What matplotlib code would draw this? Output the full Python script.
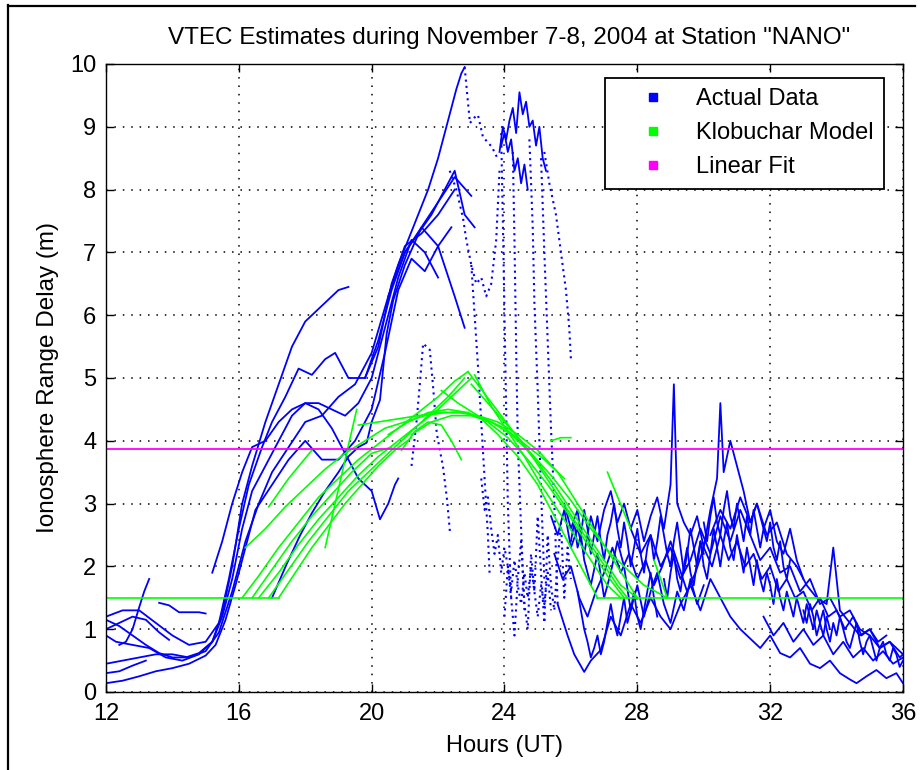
import matplotlib
matplotlib.use("Agg")
import matplotlib.pyplot as plt
from matplotlib.lines import Line2D

plt.rcParams['font.family'] = ['Liberation Sans', 'DejaVu Sans']

# ---- Actual Data: solid tracks (hours UT, range delay m) ----
e1_t = [12.0, 12.4, 12.8, 13.2, 13.6, 14.0, 14.4, 14.8, 15.2, 15.5, 15.8, 16.1, 16.4, 16.8, 17.2, 17.6, 18.0, 18.4, 18.8, 19.0, 19.3]
e1_y = [1.15, 1.05, 0.9, 0.75, 0.62, 0.55, 0.55, 0.62, 0.8, 1.25, 2.0, 3.0, 3.6, 4.3, 4.9, 5.5, 5.9, 6.1, 6.3, 6.4, 6.45]
e2_t = [12.0, 12.5, 13.0, 13.5, 14.0, 14.5, 15.0, 15.4, 15.7, 16.0, 16.3, 16.7, 17.0, 17.4, 17.8, 18.2, 18.6, 18.9, 19.3, 19.8, 20.2, 20.6, 21.0, 21.5, 22.0, 22.5]
e2_y = [1.2, 1.3, 1.3, 1.1, 0.9, 0.75, 0.8, 1.1, 1.8, 2.6, 3.3, 3.9, 4.3, 4.7, 5.15, 5.05, 5.3, 5.4, 5.0, 5.0, 5.5, 6.5, 7.1, 7.3, 7.6, 8.0]
e3_t = [12.0, 12.3, 12.8, 13.3, 13.8, 14.3, 14.8, 15.2, 15.5, 15.8, 16.1, 16.4, 16.8, 17.2, 17.6, 18.0, 18.4, 18.8, 19.2, 19.6, 20.0, 20.25, 20.5, 20.7, 20.8]
e3_y = [0.9, 0.8, 0.75, 0.7, 0.55, 0.5, 0.6, 0.8, 1.2, 1.8, 2.6, 3.2, 3.6, 4.0, 4.4, 4.6, 4.5, 4.2, 3.8, 3.4, 3.2, 2.75, 3.0, 3.3, 3.4]
e4_t = [12.0, 12.5, 13.0, 13.5, 14.0, 14.5, 15.0, 15.4, 15.8, 16.2, 16.6, 17.0, 17.5, 18.0, 18.5, 19.0, 19.5, 20.0, 20.5, 21.0, 21.5, 22.0, 22.5, 23.0]
e4_y = [0.45, 0.5, 0.55, 0.6, 0.6, 0.55, 0.65, 0.95, 1.6, 2.4, 3.0, 3.5, 3.9, 4.3, 4.4, 4.7, 4.9, 5.4, 6.3, 7.0, 7.4, 7.8, 8.2, 7.9]
e5_t = [12.0, 12.5, 13.0, 13.5, 14.0, 14.5, 15.0, 15.3, 15.6, 15.9, 16.2, 16.5, 17.0, 17.5, 18.0, 18.5, 19.0, 19.5, 20.0, 20.4, 20.8, 21.2, 21.6, 22.0, 22.4]
e5_y = [0.14, 0.18, 0.25, 0.33, 0.38, 0.45, 0.58, 0.75, 1.15, 1.7, 2.3, 2.9, 3.3, 3.7, 4.0, 3.7, 3.7, 4.0, 4.5, 5.4, 6.4, 6.9, 6.7, 7.1, 7.4]
e6_t = [17.0, 17.45, 17.85, 18.2, 18.6, 19.0, 19.3, 19.6, 19.85, 20.0, 20.25, 20.45, 20.65, 21.0, 21.5, 22.0, 22.5, 22.8]
e6_y = [1.5, 2.05, 2.5, 2.85, 3.2, 3.5, 3.75, 3.9, 3.97, 4.3, 4.65, 5.7, 6.24, 6.8, 7.4, 7.1, 6.3, 5.8]
e7_t = [15.2, 15.5, 15.8, 16.1, 16.4, 16.8, 17.2, 17.6, 18.0, 18.4, 18.8, 19.2, 19.6, 20.0, 20.4, 20.8, 21.2, 21.6, 22.0]
e7_y = [1.9, 2.4, 3.0, 3.5, 3.9, 4.0, 4.3, 4.5, 4.6, 4.6, 4.5, 4.4, 4.6, 5.0, 5.8, 6.6, 7.2, 7.0, 6.6]
e8_t = [19.8, 20.2, 20.6, 21.0, 21.4, 21.8, 22.2, 22.5, 22.8, 23.1]
e8_y = [5.0, 5.6, 6.4, 7.0, 7.3, 7.6, 8.0, 8.3, 7.6, 7.4]
p10_t = [20.5, 20.8, 21.1, 21.4, 21.7, 22.0, 22.2, 22.4, 22.55, 22.7, 22.8]
p10_y = [6.3, 6.8, 7.2, 7.6, 8.0, 8.5, 8.9, 9.3, 9.6, 9.85, 9.95]
s1_t = [12.4, 12.6, 12.8, 13.0, 13.15, 13.3]
s1_y = [0.75, 0.8, 1.0, 1.35, 1.6, 1.8]
s2_t = [13.6, 13.9, 14.2, 14.5, 14.8, 15.0]
s2_y = [1.42, 1.38, 1.27, 1.27, 1.27, 1.25]
s3_t = [12.0, 12.4, 12.8, 13.2]
s3_y = [0.3, 0.33, 0.42, 0.5]
s4_t = [12.0, 12.4, 12.8, 13.2, 13.6, 13.9]
s4_y = [1.0, 1.1, 1.2, 1.15, 0.95, 0.83]
c1_t = [23.85, 23.95, 24.05, 24.15, 24.25, 24.35, 24.45, 24.55, 24.65, 24.75, 24.85, 24.95, 25.05, 25.15, 25.25]
c1_y = [8.6, 9.0, 8.8, 9.1, 9.3, 8.9, 9.55, 9.2, 9.4, 9.0, 9.1, 8.7, 9.0, 8.5, 8.3]
c2_t = [23.9, 24.0, 24.1, 24.2, 24.3, 24.4, 24.5, 24.6, 24.7]
c2_y = [8.7, 8.9, 8.6, 8.8, 8.3, 8.5, 8.1, 8.4, 8.0]

n1_t = [25.4, 25.6, 25.8, 26.0, 26.2, 26.4, 26.6, 26.8, 27.0, 27.2, 27.4, 27.6, 27.8, 28.0, 28.2, 28.4, 28.6, 28.8, 29.0, 29.1,
        29.2, 29.4, 29.6, 29.8, 30.0, 30.2, 30.4, 30.5, 30.6, 30.8, 31.0, 31.2, 31.4, 31.6, 31.8, 32.0, 32.2, 32.4, 32.6, 32.8, 33.0]
n1_y = [2.8, 2.5, 2.9, 2.3, 2.6, 2.2, 2.8, 2.4, 2.9, 3.2, 2.7, 3.0, 2.6, 2.9, 2.4, 2.8, 3.1, 2.6, 3.3, 4.9,
        3.0, 2.7, 2.5, 2.8, 2.3, 2.9, 3.4, 4.6, 3.5, 4.0, 3.6, 3.2, 2.7, 3.0, 2.6, 2.9, 2.4, 2.2, 2.6, 2.1, 1.8]
n2_t = [25.5, 25.75, 26.0, 26.25, 26.5, 26.75, 27.0, 27.25, 27.5, 27.75, 28.0, 28.25, 28.5, 28.75, 29.0, 29.25, 29.5, 29.75, 30.0, 30.25,
        30.5, 30.75, 31.0, 31.25, 31.5, 31.75, 32.0, 32.25, 32.5, 32.75, 33.0, 33.25, 33.5, 33.75, 34.0, 34.25, 34.5, 34.75, 35.0, 35.25, 35.5]
n2_y = [2.2, 1.8, 2.0, 1.5, 1.2, 1.6, 1.9, 2.3, 1.9, 2.2, 1.8, 2.1, 1.7, 2.0, 2.4, 2.0, 1.6, 1.9, 2.3, 2.0,
        2.5, 2.1, 2.4, 2.0, 2.2, 1.8, 2.0, 1.6, 1.8, 1.5, 1.6, 1.3, 1.5, 1.2, 1.3, 1.0, 1.2, 0.9, 1.0, 0.8, 0.9]
n3_t = [25.6, 25.9, 26.1, 26.4, 26.6, 26.9, 27.2, 27.5, 27.8, 28.1, 28.4, 28.7, 29.0, 29.3, 29.6, 29.9, 30.2, 30.5, 30.8,
        31.1, 31.4, 31.7, 32.0, 32.3, 32.6, 32.9, 33.2, 33.5, 33.8, 34.1, 34.4, 34.6, 34.9, 35.2, 35.5, 35.8, 36.0]
n3_y = [1.4, 0.9, 0.6, 0.32, 0.5, 0.67, 1.2, 0.9, 1.4, 1.1, 1.5, 1.2, 1.0, 1.4, 1.7, 1.3, 1.8, 1.5, 1.2,
        1.0, 0.85, 0.7, 0.9, 0.62, 0.55, 0.7, 0.45, 0.38, 0.5, 0.3, 0.2, 0.14, 0.25, 0.35, 0.22, 0.3, 0.14]
n4_t = [27.8, 28.1, 28.4, 28.7, 29.0, 29.3, 29.6, 29.9, 30.2, 30.5, 30.8, 31.1, 31.4, 31.7, 32.0, 32.3, 32.6, 32.9, 33.2, 33.5,
        33.8, 34.1, 34.4, 34.7, 35.0, 35.3, 35.6, 36.0]
n4_y = [2.6, 2.2, 2.5, 2.0, 2.3, 1.8, 2.1, 2.6, 2.2, 2.8, 2.4, 2.9, 2.5, 2.1, 2.3, 1.9, 2.0, 1.6, 1.8, 1.4,
        1.5, 1.2, 1.3, 1.0, 0.9, 0.7, 0.8, 0.6]
n5_t = [30.2, 30.5, 30.8, 31.1, 31.4, 31.6, 31.9, 32.2, 32.5, 32.8, 33.1, 33.4, 33.7, 33.9, 34.1, 34.4, 34.7, 35.0, 35.3, 35.6, 35.9, 36.0]
n5_y = [2.5, 2.9, 2.6, 3.1, 2.7, 3.0, 2.5, 2.7, 2.2, 2.0, 1.7, 1.5, 1.4, 2.3, 1.3, 1.1, 0.9, 1.0, 0.7, 0.8, 0.55, 0.6]
n6_t = [25.8, 26.0, 26.2, 26.4, 26.6, 26.8, 27.0, 27.2, 27.4, 27.6, 27.8, 28.0, 28.2, 28.4, 28.6, 28.8, 29.0, 29.2, 29.4, 29.6, 29.8, 30.0]
n6_y = [3.0, 2.6, 2.9, 2.1, 1.7, 2.2, 1.5, 1.9, 2.4, 2.0, 1.3, 1.7, 1.2, 1.6, 1.9, 1.4, 1.1, 1.6, 1.3, 1.8, 1.4, 1.7]
n7_t = [31.8, 32.1, 32.4, 32.7, 33.0, 33.3, 33.6, 33.9, 34.2, 34.5, 34.8, 35.1, 35.4, 35.7, 36.0]
n7_y = [1.2, 0.9, 1.1, 0.8, 1.0, 0.75, 0.9, 0.6, 0.8, 0.55, 0.7, 0.5, 0.65, 0.45, 0.55]
n8_t = [26.0, 26.1, 26.2, 26.3, 26.4, 26.5, 26.6, 26.7, 26.8, 26.9, 27.0, 27.1, 27.2, 27.3, 27.4, 27.5, 27.6, 27.7, 27.8, 27.9,
        28.0, 28.1, 28.2, 28.3, 28.4, 28.5, 28.6, 28.7, 28.8, 28.9, 29.0, 29.1, 29.2, 29.3, 29.4, 29.5, 29.6, 29.7, 29.8, 29.9, 30.0]
n8_y = [2.4, 2.7, 2.3, 2.5, 2.9, 2.6, 2.2, 2.5, 2.8, 2.4, 2.1, 2.5, 2.7, 3.0, 2.6, 2.3, 2.7, 2.4, 2.0, 2.3,
        2.6, 2.2, 1.9, 2.3, 2.5, 2.1, 2.4, 2.8, 2.5, 2.2, 2.0, 2.4, 2.7, 2.3, 1.9, 2.2, 2.6, 2.3, 2.0, 2.4, 2.2]
n9_t = [28.8, 28.9, 29.0, 29.1, 29.2, 29.3, 29.4, 29.5, 29.6, 29.7, 29.8, 29.9, 30.0, 30.1, 30.2, 30.3, 30.4, 30.5, 30.6, 30.7,
        30.8, 30.9, 31.0, 31.1, 31.2, 31.3, 31.4, 31.5, 31.6, 31.7, 31.8, 31.9, 32.0, 32.1, 32.2, 32.3, 32.4, 32.5, 32.6, 32.7,
        32.8, 32.9, 33.0, 33.1, 33.2, 33.3, 33.4, 33.5, 33.6, 33.7, 33.8]
n9_y = [1.8, 1.5, 1.9, 2.2, 1.8, 1.6, 2.0, 2.3, 1.9, 1.7, 2.1, 2.4, 2.0, 1.8, 2.2, 2.6, 2.3, 2.0, 2.4, 2.7,
        2.3, 2.1, 2.5, 2.2, 1.9, 2.3, 2.0, 1.7, 2.1, 1.8, 1.6, 1.9, 1.7, 1.4, 1.8, 1.5, 1.3, 1.6, 1.4, 1.2,
        1.5, 1.3, 1.1, 1.4, 1.2, 1.0, 1.3, 1.1, 0.9, 1.2, 1.0]
n10_t = [33.0, 33.1, 33.2, 33.3, 33.4, 33.5, 33.6, 33.7, 33.8, 33.9, 34.0, 34.1, 34.2, 34.3, 34.4, 34.5, 34.6, 34.7, 34.8, 34.9,
         35.0, 35.1, 35.2, 35.3, 35.4, 35.5, 35.6, 35.7, 35.8, 35.9, 36.0]
n10_y = [1.3, 1.1, 1.4, 1.2, 0.9, 1.1, 1.3, 1.0, 0.8, 1.1, 0.9, 1.2, 1.0, 0.8, 0.7, 0.9, 1.1, 0.8, 0.6, 0.8,
         0.9, 0.7, 0.5, 0.7, 0.8, 0.6, 0.5, 0.7, 0.6, 0.4, 0.5]
n11_t = [26.2, 26.3, 26.4, 26.5, 26.6, 26.7, 26.8, 26.9, 27.0, 27.1, 27.2, 27.3, 27.4, 27.5, 27.6, 27.7, 27.8, 27.9, 28.0, 28.1,
         28.2, 28.3, 28.4, 28.5, 28.6]
n11_y = [1.6, 1.3, 1.0, 0.8, 0.55, 0.7, 0.9, 0.6, 0.8, 1.1, 1.4, 1.1, 0.9, 1.2, 1.5, 1.1, 1.3, 1.6, 1.2, 1.0,
         1.3, 1.6, 1.9, 1.5, 1.2]
n12_t = [30.0, 30.1, 30.2, 30.3, 30.4, 30.5, 30.6, 30.7, 30.8, 30.9, 31.0, 31.1, 31.2, 31.3, 31.4, 31.5, 31.6, 31.7, 31.8, 31.9,
         32.0, 32.1, 32.2, 32.3, 32.4, 32.5, 32.6]
n12_y = [2.7, 2.4, 2.8, 3.1, 2.7, 2.5, 2.9, 3.2, 2.8, 2.6, 3.0, 2.7, 2.4, 2.8, 2.5, 2.9, 2.6, 2.3, 2.6, 2.4,
         2.7, 2.3, 2.1, 2.4, 2.0, 1.8, 2.1]

# ---- Actual Data: sparse (dotted) tracks ----
d1_t = [22.8, 22.88, 22.96, 23.1, 23.2, 23.35, 23.5, 23.62, 23.77]
d1_y = [9.95, 9.5, 9.06, 9.15, 9.19, 8.84, 8.75, 8.68, 8.52]
d2_t = [22.35, 22.55, 22.75, 22.85, 23.0, 23.15, 23.3, 23.45, 23.6, 23.75, 23.85]
d2_y = [8.3, 8.0, 7.55, 7.2, 6.8, 6.5, 6.6, 6.3, 6.5, 7.2, 8.3]
d3_t = [23.9, 23.95, 24.0, 24.05, 24.1, 24.2]
d3_y = [8.9, 7.5, 6.0, 4.5, 3.0, 1.5]
d4_t = [24.25, 24.3, 24.35, 24.4, 24.5, 24.6]
d4_y = [8.6, 7.2, 5.5, 4.0, 2.6, 1.3]
d5_t = [24.75, 24.85, 24.9, 25.0, 25.1, 25.2]
d5_y = [8.8, 7.4, 6.2, 4.8, 3.2, 1.8]
d6_t = [25.1, 25.2, 25.3, 25.4, 25.5, 25.6]
d6_y = [8.5, 7.0, 5.6, 4.2, 3.0, 1.4]
d7_t = [25.2, 25.35, 25.55, 25.7, 25.85, 25.95, 26.0]
d7_y = [8.6, 8.1, 7.6, 7.0, 6.4, 5.8, 5.3]
d8_t = [21.2, 21.35, 21.45, 21.55, 21.75, 21.85, 21.96, 22.15, 22.27, 22.36]
d8_y = [3.6, 4.3, 4.9, 5.55, 5.45, 4.86, 4.12, 3.58, 3.06, 2.53]
d9_t = [23.0, 23.1, 23.2, 23.3, 23.4, 23.5, 23.55]
d9_y = [6.8, 6.0, 5.2, 4.3, 3.4, 2.5, 1.9]
l1_t = [23.3, 23.4, 23.5, 23.6, 23.7, 23.8, 23.9, 24.0, 24.1, 24.2, 24.3, 24.4, 24.5, 24.6, 24.7, 24.8, 24.9, 25.0, 25.1, 25.2, 25.3, 25.4]
l1_y = [3.4, 2.9, 3.1, 2.6, 2.2, 2.5, 1.9, 2.3, 2.0, 1.6, 2.1, 1.7, 1.4, 1.9, 1.5, 2.0, 1.6, 1.2, 1.7, 1.4, 1.9, 1.3]
l2_t = [24.0, 24.1, 24.2, 24.3, 24.4, 24.5, 24.6, 24.7, 24.8, 24.9, 25.0, 25.1, 25.2, 25.3, 25.4, 25.5, 25.6, 25.7, 25.8, 25.9, 26.0]
l2_y = [1.2, 2.0, 1.5, 0.9, 1.8, 2.4, 1.4, 1.0, 2.2, 1.6, 2.8, 1.9, 1.1, 2.5, 1.7, 1.3, 2.1, 2.7, 1.5, 2.3, 1.8]

# ---- Klobuchar Model segments ----
gf1_t = [12.0, 17.2]
gf1_y = [1.5, 1.5]
gf2_t = [26.8, 36.0]
gf2_y = [1.5, 1.5]
g1_t = [16.1, 16.6, 17.2, 17.8, 18.4, 19.0, 19.6, 20.2, 20.8, 21.4, 22.0, 22.5, 22.9]
g1_y = [1.5, 1.85, 2.3, 2.7, 3.1, 3.4, 3.7, 3.95, 4.2, 4.45, 4.7, 4.95, 5.1]
g2_t = [16.4, 17.0, 17.6, 18.2, 18.8, 19.4, 20.0, 20.6]
g2_y = [1.5, 1.95, 2.4, 2.8, 3.15, 3.5, 3.8, 3.9]
g3_t = [16.6, 17.2, 17.8, 18.4, 19.0, 19.6, 20.2, 20.8, 21.4, 22.0, 22.6, 23.0]
g3_y = [1.5, 1.9, 2.35, 2.75, 3.1, 3.45, 3.75, 4.0, 4.25, 4.5, 4.8, 5.0]
g4_t = [16.9, 17.5, 18.1, 18.7, 19.3, 19.9, 20.5, 21.1, 21.7, 22.3, 22.8]
g4_y = [1.5, 1.95, 2.4, 2.8, 3.2, 3.5, 3.8, 4.1, 4.4, 4.7, 5.0]
g5_t = [17.2, 17.7, 18.2, 18.7, 19.2, 19.7, 20.2, 20.7, 21.2]
g5_y = [1.5, 1.9, 2.3, 2.65, 3.0, 3.3, 3.6, 3.85, 4.05]
g6_t = [16.2, 16.8, 17.4, 18.0, 18.6, 19.2, 19.8, 20.4, 21.0, 21.6, 22.2, 22.8, 23.4, 24.0, 24.6, 25.2, 25.8]
g6_y = [2.3, 2.6, 2.95, 3.25, 3.55, 3.8, 4.0, 4.2, 4.3, 4.4, 4.45, 4.45, 4.35, 4.2, 3.95, 3.7, 3.4]
g7_t = [22.9, 23.4, 23.9, 24.4, 24.9, 25.4, 25.9, 26.4, 26.9, 27.4, 27.7]
g7_y = [5.1, 4.75, 4.4, 4.05, 3.7, 3.3, 2.9, 2.5, 2.1, 1.7, 1.5]
g8_t = [23.0, 23.5, 24.0, 24.5, 25.0, 25.5, 26.0, 26.5, 27.0, 27.5, 28.0]
g8_y = [4.9, 4.6, 4.3, 4.0, 3.65, 3.3, 2.9, 2.5, 2.1, 1.7, 1.5]
g9_t = [19.6, 20.2, 20.8, 21.4, 22.0, 22.6, 23.2, 23.8, 24.4, 25.0, 25.6, 26.2, 26.8, 27.4, 28.0]
g9_y = [4.25, 4.3, 4.35, 4.4, 4.45, 4.45, 4.4, 4.3, 4.1, 3.85, 3.5, 3.0, 2.5, 2.0, 1.5]
g10_t = [20.5, 21.1, 21.7, 22.3, 22.9, 23.5, 24.1, 24.7, 25.3, 25.9, 26.5, 27.1, 27.6]
g10_y = [4.1, 4.3, 4.45, 4.5, 4.45, 4.3, 4.05, 3.7, 3.3, 2.85, 2.35, 1.85, 1.5]
g11_t = [21.2, 21.8, 22.4, 23.0, 23.6, 24.2, 24.8, 25.4, 26.0, 26.6, 27.2, 27.7, 28.2, 28.9]
g11_y = [4.1, 4.3, 4.4, 4.4, 4.3, 4.1, 3.8, 3.45, 3.05, 2.6, 2.2, 1.95, 1.7, 1.5]
g12_t = [23.1, 23.6, 24.1, 24.6, 25.1, 25.6, 26.1, 26.6, 27.1, 27.5]
g12_y = [5.05, 4.55, 4.15, 3.75, 3.3, 2.9, 2.5, 2.1, 1.7, 1.5]
g13_t = [22.1, 22.6, 23.2, 23.8, 24.4, 25.0, 25.5, 26.0, 26.5, 26.8]
g13_y = [4.8, 4.6, 4.4, 4.1, 3.75, 3.3, 2.8, 2.3, 1.8, 1.5]
g14_t = [18.6, 18.9, 19.2, 19.55]
g14_y = [2.3, 3.0, 3.7, 4.5]
g15_t = [16.9, 17.5, 18.2]
g15_y = [2.95, 3.4, 3.85]
g16_t = [27.1, 27.45, 27.8]
g16_y = [3.5, 3.05, 2.6]
g17_t = [28.5, 28.7, 28.9]
g17_y = [2.1, 1.8, 1.5]
g18_t = [25.4, 25.7, 26.0]
g18_y = [4.0, 4.05, 4.05]
g19_t = [20.9, 21.3, 21.7, 22.1, 22.4, 22.7]
g19_y = [3.85, 4.15, 4.3, 4.25, 4.0, 3.7]

linear_fit = 3.87
x_ticks = [12, 16, 20, 24, 28, 32, 36]
y_ticks = list(range(0, 11))

blue_solid = [(e1_t, e1_y), (e2_t, e2_y), (e3_t, e3_y), (e4_t, e4_y), (e5_t, e5_y), (e6_t, e6_y),
              (e7_t, e7_y), (e8_t, e8_y), (p10_t, p10_y), (s1_t, s1_y), (s2_t, s2_y), (s3_t, s3_y),
              (s4_t, s4_y), (c1_t, c1_y), (c2_t, c2_y), (n1_t, n1_y), (n2_t, n2_y), (n3_t, n3_y),
              (n4_t, n4_y), (n5_t, n5_y), (n6_t, n6_y), (n7_t, n7_y), (n8_t, n8_y), (n9_t, n9_y),
              (n10_t, n10_y), (n11_t, n11_y), (n12_t, n12_y)]
blue_dotted = [(d1_t, d1_y), (d2_t, d2_y), (d3_t, d3_y), (d4_t, d4_y), (d5_t, d5_y), (d6_t, d6_y),
               (d7_t, d7_y), (d8_t, d8_y), (d9_t, d9_y), (l1_t, l1_y), (l2_t, l2_y)]
green = [(gf1_t, gf1_y), (gf2_t, gf2_y), (g1_t, g1_y), (g2_t, g2_y), (g3_t, g3_y), (g4_t, g4_y),
         (g5_t, g5_y), (g6_t, g6_y), (g7_t, g7_y), (g8_t, g8_y), (g9_t, g9_y), (g10_t, g10_y),
         (g11_t, g11_y), (g12_t, g12_y), (g13_t, g13_y), (g14_t, g14_y), (g15_t, g15_y),
         (g16_t, g16_y), (g17_t, g17_y), (g18_t, g18_y), (g19_t, g19_y)]

fig = plt.figure(figsize=(9.24, 7.7), dpi=100)
ax = fig.add_axes([106 / 924, 1 - 692 / 770, 797 / 924, 628 / 770])

for t, y in blue_solid:
    ax.plot(t, y, color='#0000ff', lw=1.3)
for t, y in blue_dotted:
    ax.plot(t, y, color='#0000ff', lw=1.5, ls=(0, (1, 2)))
for t, y in green:
    ax.plot(t, y, color='#00ff00', lw=1.2)
ax.axhline(linear_fit, color='#ff00ff', lw=1.3)

ax.set_xlim(12, 36)
ax.set_ylim(0, 10)
ax.set_xticks(x_ticks)
ax.set_yticks(y_ticks)
ax.tick_params(direction='in', length=6, width=1, top=True, right=True, labelsize=17)
ax.tick_params(axis='x', pad=8)
ax.tick_params(axis='y', pad=7)
ax.grid(True, color='black', lw=1.1, ls=(0, (1, 4.5)))
for s in ax.spines.values():
    s.set_linewidth(1.0)

ax.set_xlabel('Hours (UT)', fontsize=17, labelpad=7)
ax.set_ylabel('Ionosphere Range Delay (m)', fontsize=17.5, labelpad=8)
fig.text(509 / 924, 1 - 38 / 770, 'VTEC Estimates during November 7-8, 2004 at Station "NANO"',
         ha='center', va='center', fontsize=17.5)

handles = [Line2D([], [], marker='s', ls='none', color=c, ms=6) for c in ['#0000ff', '#00ff00', '#ff00ff']]
leg = ax.legend(handles, ['Actual Data', 'Klobuchar Model', 'Linear Fit'], loc='upper right',
                bbox_to_anchor=(0.976, 0.978), fontsize=17, frameon=True, fancybox=False,
                edgecolor='black', framealpha=1, borderpad=0.45, handlelength=3.1,
                handletextpad=0.27, labelspacing=0.5, borderaxespad=0)
leg.get_frame().set_linewidth(1.3)

# figure frame (top and left edges of the screenshot)
fig.add_artist(Line2D([8 / 924, 915 / 924], [1 - 5.5 / 770] * 2, transform=fig.transFigure, color='black', lw=1.6))
fig.add_artist(Line2D([8 / 924] * 2, [0, 1 - 5 / 770], transform=fig.transFigure, color='black', lw=1.6))

fig.savefig('out.png', dpi=100)
